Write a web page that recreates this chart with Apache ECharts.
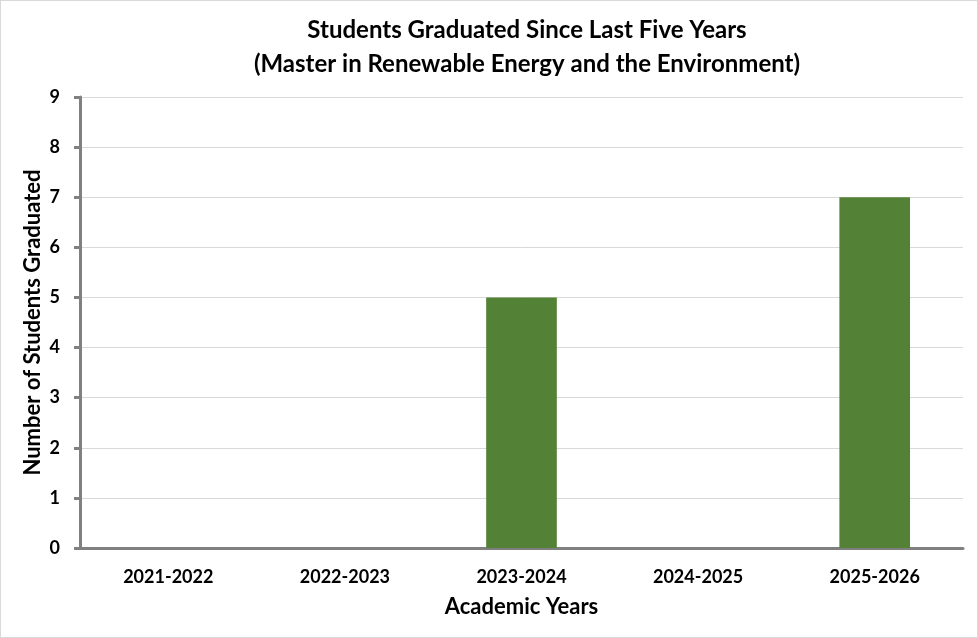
<!DOCTYPE html>
<html>
<head>
<meta charset="utf-8">
<script src="https://cdn.jsdelivr.net/npm/echarts@6/dist/echarts.min.js"></script>
<style>
html,body{margin:0;padding:0;background:#fff;}
#c{width:976px;height:636px;border:1px solid #d9d9d9;}
</style>
</head>
<body>
<div id="c"></div>
<script>
const categories = ["2021-2022","2022-2023","2023-2024","2024-2025","2025-2026"];
const graduates = [0, 0, 5, 0, 7];
const yTicks = {min: 0, max: 9, interval: 1};
const titleLines = ["Students Graduated Since Last Five Years","(Master in Renewable Energy and the Environment)"];
const xName = "Academic Years";
const yName = "Number of Students Graduated";

const font = "Lato, 'Open Sans', sans-serif";
const chart = echarts.init(document.getElementById('c'));
chart.setOption({
  animation: false,
  title: {
    text: titleLines.join("\n"),
    left: 521, top: 7, textAlign: 'center',
    textStyle: {fontFamily: font, fontWeight: 'bold', fontSize: 24, lineHeight: 34, color: '#000'}
  },
  grid: {left: 79, right: 14, top: 96, bottom: 89},
  xAxis: {
    type: 'category', data: categories,
    name: xName, nameLocation: 'middle', nameGap: 48,
    nameTextStyle: {fontFamily: font, fontWeight: 'bold', fontSize: 22, color: '#000'},
    axisLine: {lineStyle: {color: '#808080', width: 3}},
    axisTick: {show: false},
    axisLabel: {fontFamily: font, fontWeight: 'bold', fontSize: 18, color: '#000', margin: 20}
  },
  yAxis: {
    type: 'value', min: yTicks.min, max: yTicks.max, interval: yTicks.interval,
    name: yName, nameLocation: 'middle', nameGap: 36, nameMoveOverlap: false,
    nameTextStyle: {fontFamily: font, fontWeight: 'bold', fontSize: 22, color: '#000'},
    axisLine: {show: true, lineStyle: {color: '#808080', width: 3}},
    axisTick: {show: true, length: 6, lineStyle: {color: '#808080', width: 3}},
    splitLine: {lineStyle: {color: '#d9d9d9', width: 1}},
    axisLabel: {fontFamily: font, fontWeight: 'bold', fontSize: 18, color: '#000', margin: 20}
  },
  series: [{
    type: 'bar', data: graduates, barWidth: '40%',
    itemStyle: {color: '#538135'}
  }]
});
</script>
</body>
</html>
